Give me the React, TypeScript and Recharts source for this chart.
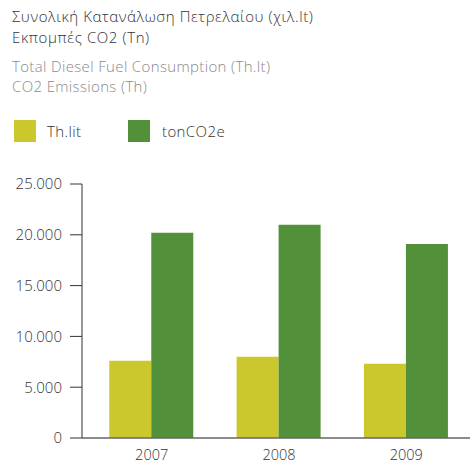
import React from 'react';
import { BarChart, Bar, XAxis, YAxis } from 'recharts';

const years = ['2007', '2008', '2009'];
const thLit = [7600, 8000, 7300];
const tonCO2e = [20200, 21000, 19100];
const yTicks = [0, 5000, 10000, 15000, 20000, 25000];

const YELLOW = '#CBC82D';
const GREEN = '#52913A';
const FONT = '"Open Sans", Lato, sans-serif';

const data = years.map((y, i) => ({ year: y, thLit: thLit[i], tonCO2e: tonCO2e[i] }));

const fmt = (v: number) => v.toString().replace(/\B(?=(\d{3})+(?!\d))/g, '.');

const App: React.FC = () => {
  return (
    <div style={{ position: 'absolute', left: 0, top: 0, width: 473, height: 466, background: '#fff', fontFamily: FONT, fontWeight: 300 }}>
      <div style={{ position: 'absolute', left: 12, top: 6, fontSize: 15, lineHeight: '21px', letterSpacing: 0.6, color: '#333' }}>
        <div>Συνολική Κατανάλωση Πετρελαίου (χιλ.lt)</div>
        <div>Εκπομπές CO2 (Tn)</div>
      </div>
      <div style={{ position: 'absolute', left: 12, top: 56, fontSize: 15, lineHeight: '20px', letterSpacing: 0.35, color: '#8a8a8a' }}>
        <div>Total Diesel Fuel Consumption (Th.lt)</div>
        <div>CO2 Emissions (Th)</div>
      </div>
      <div style={{ position: 'absolute', left: 14, top: 120, height: 22, display: 'flex', alignItems: 'center', fontSize: 15, letterSpacing: 0.4, color: '#333' }}>
        <span style={{ width: 22, height: 22, background: YELLOW, display: 'inline-block' }} />
        <span style={{ marginLeft: 11, width: 81 }}>Th.lit</span>
        <span style={{ width: 22, height: 22, background: GREEN, display: 'inline-block' }} />
        <span style={{ marginLeft: 12 }}>tonCO2e</span>
      </div>
      <div style={{ position: 'absolute', left: 0, top: 0 }}>
        <BarChart
          width={473}
          height={466}
          data={data}
          margin={{ top: 184, right: 3, left: 0, bottom: 0 }}
          barCategoryGap="16.7%"
          barGap={0}
        >
          <XAxis
            dataKey="year"
            height={28}
            padding={{ left: 6, right: 0 }}
            tickLine={false}
            tickSize={0}
            tickMargin={12}
            axisLine={{ stroke: '#666', strokeWidth: 1.5 }}
            tick={{ fontSize: 14.5, fill: '#333', fontFamily: FONT, fontWeight: 300 }}
          />
          <YAxis
            width={82}
            domain={[0, 25000]}
            ticks={yTicks}
            interval={0}
            tickFormatter={fmt}
            tickSize={12}
            tickMargin={8}
            axisLine={{ stroke: '#333' }}
            tickLine={{ stroke: '#333' }}
            tick={{ fontSize: 15, fill: '#333', fontFamily: FONT, fontWeight: 300 }}
          />
          <Bar dataKey="thLit" fill={YELLOW} isAnimationActive={false} />
          <Bar dataKey="tonCO2e" fill={GREEN} isAnimationActive={false} />
        </BarChart>
      </div>
    </div>
  );
};

export default App;
